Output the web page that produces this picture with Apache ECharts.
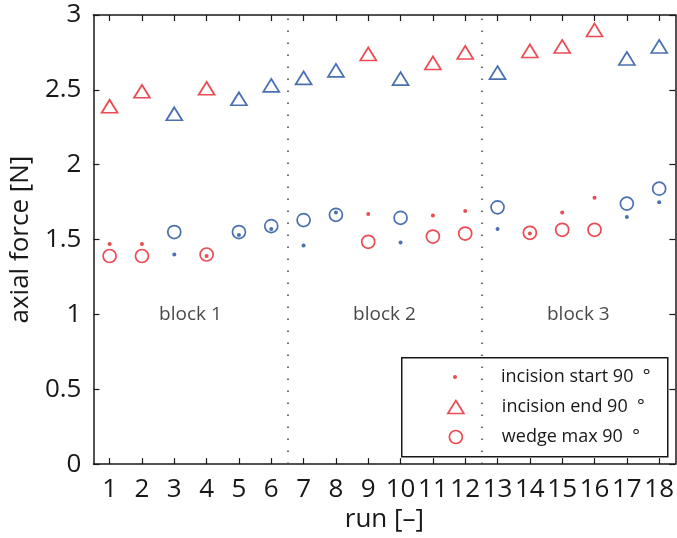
<!DOCTYPE html>
<html><head><meta charset="utf-8">
<script src="https://cdn.jsdelivr.net/npm/echarts@6/dist/echarts.min.js"></script>
<style>html,body{margin:0;padding:0;background:#fff}#c{width:677px;height:538px}</style>
</head><body><div id="c"></div>
<script>
const runs = [1,2,3,4,5,6,7,8,9,10,11,12,13,14,15,16,17,18];
const blueRuns = [3,5,6,7,8,10,13,17,18];
const incisionStart = [1.47,1.47,1.40,1.39,1.53,1.57,1.46,1.68,1.67,1.48,1.66,1.69,1.57,1.54,1.68,1.78,1.65,1.75];
const incisionEnd   = [2.39,2.49,2.34,2.51,2.44,2.53,2.58,2.63,2.74,2.575,2.68,2.75,2.615,2.76,2.79,2.90,2.71,2.79];
const wedgeMax      = [1.39,1.39,1.55,1.40,1.55,1.59,1.63,1.665,1.485,1.645,1.52,1.54,1.715,1.545,1.565,1.565,1.74,1.84];
const yTicks = [0,0.5,1,1.5,2,2.5,3];
const blockNames = ['block 1','block 2','block 3'];
const blockCenters = [3.5,9.5,15.5];
const blockLabelY = [1,1,1];
const blockBounds = [6.5,12.5];
const seriesNames = ['incision start 90  \u00b0','incision end 90  \u00b0','wedge max 90  \u00b0'];

const RED = '#e61e27', BLUE = '#1c4c9c', INK = '#1a1718';
const FONT = 'Open Sans';

function pts(vals, hollow) {
  return runs.map((r, i) => {
    const c = blueRuns.includes(r) ? BLUE : RED;
    return { value: [r, vals[i]], itemStyle: hollow ? { borderColor: c, color: 'rgba(0,0,0,0)' } : { color: c } };
  });
}

const xBase = {
  type: 'value', min: 0.5, max: 18.5,
  axisLine: { show: true, onZero: false, lineStyle: { color: INK, width: 1.5 } },
  axisTick: { show: true, inside: true, length: 6, customValues: runs, lineStyle: { color: INK, width: 1.2 } },
  splitLine: { show: false }
};
const yBase = {
  type: 'value', min: 0, max: 3, interval: 0.5,
  axisLine: { show: true, onZero: false, lineStyle: { color: INK, width: 1.5 } },
  axisTick: { show: true, inside: true, length: 6, lineStyle: { color: INK, width: 1.2 } },
  splitLine: { show: false }
};

// icon centre x = 455, text starts at x = 501
function legendAt(name, centerY, w, h) {
  const left = 455 - w / 2;
  return {
    orient: 'horizontal', left: left, top: centerY - 9, padding: 0,
    itemWidth: w, itemHeight: h, selectedMode: false, data: [name],
    textStyle: { fontFamily: FONT, fontSize: 18, color: INK, padding: [0, 0, 0, 501 - (left + w + 5)] },
    itemStyle: { borderWidth: 1.7 }, z: 10
  };
}

const option = {
  animation: false,
  backgroundColor: '#fff',
  grid: { left: 92, top: 15, width: 588, height: 451, containLabel: false },
  xAxis: [
    Object.assign({}, xBase, {
      position: 'bottom',
      name: 'run [\u2013]', nameLocation: 'middle', nameGap: 42,
      nameTextStyle: { fontFamily: FONT, fontSize: 26, color: INK },
      axisLabel: { show: true, customValues: runs, margin: 12, fontFamily: FONT, fontSize: 26, color: INK }
    }),
    Object.assign({}, xBase, { position: 'top', axisLabel: { show: false } })
  ],
  yAxis: [
    Object.assign({}, yBase, {
      position: 'left',
      name: 'axial force [N]', nameLocation: 'middle', nameGap: 56,
      nameTextStyle: { fontFamily: FONT, fontSize: 26, color: INK },
      axisLabel: { show: true, customValues: yTicks, margin: 12, fontFamily: FONT, fontSize: 26, color: INK }
    }),
    Object.assign({}, yBase, { position: 'right', axisLabel: { show: false } })
  ],
  legend: [
    legendAt(seriesNames[0], 377, 4, 4),
    legendAt(seriesNames[1], 407, 16, 13),
    legendAt(seriesNames[2], 437, 13, 13)
  ],
  graphic: [{
    type: 'rect', left: 401, top: 357, z: 5,
    shape: { width: 266, height: 99 },
    style: { fill: '#fff', stroke: INK, lineWidth: 1.5 }
  }],
  series: [
    {
      name: seriesNames[2], type: 'scatter', symbol: 'circle', symbolSize: 13,
      itemStyle: { color: 'rgba(0,0,0,0)', borderColor: RED, borderWidth: 1.7 },
      data: pts(wedgeMax, true), silent: true
    },
    {
      name: seriesNames[1], type: 'scatter', symbol: 'triangle', symbolSize: [16, 13],
      itemStyle: { color: 'rgba(0,0,0,0)', borderColor: RED, borderWidth: 1.7 },
      data: pts(incisionEnd, true), silent: true
    },
    {
      name: seriesNames[0], type: 'scatter', symbol: 'circle', symbolSize: 4,
      itemStyle: { color: RED },
      data: pts(incisionStart, false), silent: true,
      markLine: {
        silent: true, symbol: ['none', 'none'], label: { show: false },
        lineStyle: { type: [1.5, 10.5], color: '#444', width: 1.5 },
        data: blockBounds.map(x => ({ xAxis: x }))
      }
    },
    {
      name: 'blocks', type: 'scatter', symbolSize: 0, silent: true,
      data: blockCenters.map((x, i) => [x, blockLabelY[i]]),
      label: { show: true, position: 'inside', formatter: p => blockNames[p.dataIndex],
        fontFamily: FONT, fontSize: 19, color: INK }
    }
  ]
};
echarts.init(document.getElementById('c')).setOption(option);
</script>
</body></html>
